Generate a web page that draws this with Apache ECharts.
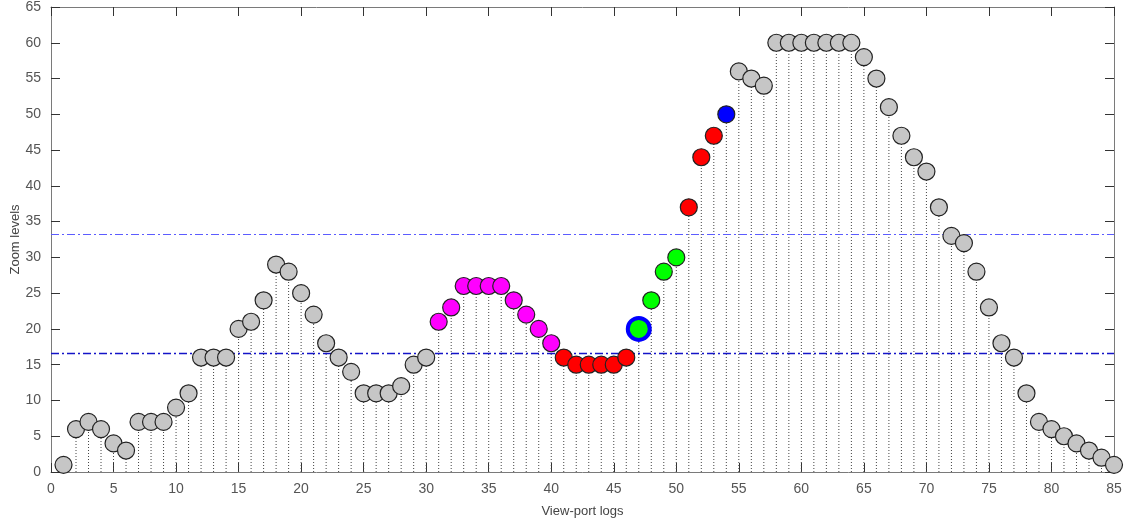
<!DOCTYPE html>
<html>
<head>
<meta charset="utf-8">
<script src="https://cdn.jsdelivr.net/npm/echarts@6/dist/echarts.min.js"></script>
<style>
html, body { margin: 0; padding: 0; background: #fff; }
#main { width: 1129px; height: 522px; }
</style>
</head>
<body>
<div id="main"></div>
<script>
// view-port log index 1..85
var logs = [];
for (var i = 1; i <= 85; i++) logs.push(i);

var zoomLevels = [1, 6, 7, 6, 4, 3, 7, 7, 7, 9,
	11, 16, 16, 16, 20, 21, 24, 29, 28, 25,
	22, 18, 16, 14, 11, 11, 11, 12, 15, 16,
	21, 23, 26, 26, 26, 26, 24, 22, 20, 18,
	16, 15, 15, 15, 15, 16, 20, 24, 28, 30,
	37, 44, 47, 50, 56, 55, 54, 60, 60, 60,
	60, 60, 60, 60, 58, 55, 51, 47, 44, 42,
	37, 33, 32, 28, 23, 18, 16, 11, 7, 6,
	5, 4, 3, 2, 1];

// g = gray, m = magenta, r = red, n = green, b = blue
var groups = ('ggggggggggggggggggggggggggggggmmmmmmmmmmrrrrrrnnnnrrrbggggggggggggggggggggggggggggggg').split('');

var highlighted = [47];      // marked with a blue ring
var thresholds = [33.33, 16.67];
var thresholdColors = ['#5c5cff', '#1414c8'];
var thresholdWidths = [1, 1.5];

var fills = { g: '#c6c6c6', m: '#ff00ff', r: '#ff0000', n: '#00ff00', b: '#0000ff' };

var dom = document.getElementById('main');
var myChart = echarts.init(dom);

var pts = [];
for (var i = 0; i < logs.length; i++) {
	pts.push({
		value: [logs[i], zoomLevels[i]],
		itemStyle: { color: fills[groups[i]] }
	});
}
var ringPts = [];
highlighted.forEach(function (x) {
	var i = logs.indexOf(x);
	ringPts.push([logs[i], zoomLevels[i]]);
});

var axisCommon = {
	type: 'value',
	interval: 5,
	splitLine: { show: false },
	axisLine: { show: true, onZero: false, lineStyle: { color: '#7a7a7a', width: 1 } },
	axisTick: { show: true, inside: true, length: 9, lineStyle: { color: '#333' } }
};

var option = {
	animation: false,
	textStyle: { fontFamily: 'Liberation Sans, Arial, sans-serif' },
	grid: { left: 51, right: 15, top: 7, bottom: 50, outerBoundsMode: 'none', containLabel: false },
	xAxis: [
		Object.assign({}, axisCommon, {
			min: 0, max: 85,
			name: 'View-port logs', nameLocation: 'middle', nameGap: 33, nameMoveOverlap: false,
			nameTextStyle: { color: '#444', fontSize: 13 },
			axisLabel: { color: '#555', fontSize: 14, margin: 10 }
		}),
		Object.assign({}, axisCommon, {
			min: 0, max: 85, position: 'top',
			axisLabel: { show: false }
		})
	],
	yAxis: [
		Object.assign({}, axisCommon, {
			min: 0, max: 65,
			name: 'Zoom levels', nameLocation: 'middle', nameGap: 29, nameMoveOverlap: false,
			nameTextStyle: { color: '#444', fontSize: 13 },
			axisLabel: { color: '#555', fontSize: 14, margin: 10 }
		}),
		Object.assign({}, axisCommon, {
			min: 0, max: 65, position: 'right',
			axisLabel: { show: false }
		})
	],
	series: [
		{
			// dotted stems
			type: 'custom',
			xAxisIndex: 0, yAxisIndex: 0,
			silent: true,
			data: logs.map(function (x, i) { return [x, zoomLevels[i]]; }),
			renderItem: function (params, api) {
				var top = api.coord([api.value(0), api.value(1)]);
				var base = api.coord([api.value(0), 0]);
				return {
					type: 'line',
					shape: { x1: base[0], y1: base[1], x2: top[0], y2: top[1] },
					style: { stroke: '#444', lineWidth: 1, lineDash: [1, 2] }
				};
			},
			z: 1
		},
		{
			// dash-dot threshold lines across the whole plot
			type: 'custom',
			silent: true,
			data: thresholds.map(function (t, k) { return [k, t]; }),
			renderItem: function (params, api) {
				var k = api.value(0);
				var cs = params.coordSys;
				var y = Math.round(api.coord([0, api.value(1)])[1]) + 0.5;
				return {
					type: 'line',
					shape: { x1: cs.x, y1: y, x2: cs.x + cs.width, y2: y },
					style: { stroke: thresholdColors[k], lineWidth: thresholdWidths[k], lineDash: [8, 3, 2, 3] }
				};
			},
			z: 2
		},
		{
			type: 'scatter',
			data: ringPts,
			symbol: 'circle',
			symbolSize: 22,
			itemStyle: { color: '#00ff00', borderColor: '#0000ff', borderWidth: 4, opacity: 1 },
			z: 4
		},
		{
			type: 'scatter',
			data: pts,
			symbol: 'circle',
			symbolSize: 17,
			itemStyle: { borderColor: '#222', borderWidth: 1.2, opacity: 1 },
			z: 3
		}
	]
};

if (option && typeof option === "object") {
	myChart.setOption(option, true);
}
</script>
</body>
</html>
